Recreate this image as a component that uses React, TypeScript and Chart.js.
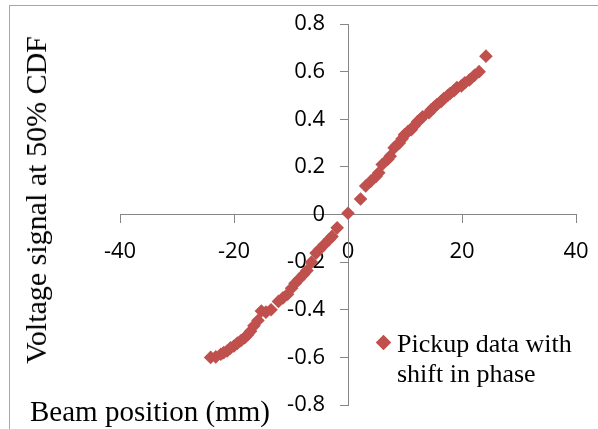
import React, { useEffect, useRef } from "react";
import { Chart, registerables } from "chart.js";

Chart.register(...registerables);

const seriesName = "Pickup data with shift in phase";
const xTitle = "Beam position (mm)";
const yTitle = "Voltage signal at 50% CDF";

const beamPos: number[] = [
  24.2, 23.0, 22.2, 21.3, 20.5, 19.9, 19.1, 18.6, 17.9, 17.5, 16.8, 16.3, 15.6, 15.1, 14.6, 14.2,
  13.1, 12.7, 12.2, 11.6, 11.1, 10.5, 9.9, 9.5, 9.0, 8.5, 8.1, 7.4, 7.0, 6.0, 5.4, 4.9, 4.0, 3.1,
  2.2, 0.0,
  -1.9, -2.8, -3.3, -4.2, -5.0, -5.6, -6.4, -7.2, -7.8, -8.6, -9.3, -9.9, -10.6, -11.4, -12.2,
  -13.5, -14.4, -15.2, -15.8, -16.5, -17.1, -17.6, -18.1, -18.8, -19.4, -20.0, -20.6, -21.2,
  -21.8, -22.3, -23.2, -24.1,
];
const voltage: number[] = [
  0.665, 0.6, 0.585, 0.565, 0.553, 0.54, 0.533, 0.52, 0.508, 0.5, 0.487, 0.474, 0.462, 0.45, 0.44,
  0.427, 0.41, 0.4, 0.39, 0.372, 0.356, 0.348, 0.335, 0.318, 0.3, 0.29, 0.28, 0.245, 0.232, 0.21,
  0.175, 0.16, 0.14, 0.12, 0.065, 0.005,
  -0.056, -0.092, -0.105, -0.127, -0.147, -0.162, -0.2, -0.235, -0.252, -0.272, -0.29, -0.31,
  -0.335, -0.35, -0.365, -0.4, -0.41, -0.405, -0.445, -0.467, -0.49, -0.505, -0.517, -0.53, -0.54,
  -0.552, -0.56, -0.573, -0.58, -0.587, -0.598, -0.6,
];

const xMin = -40, xMax = 40, xStep = 20;
const yMin = -0.8, yMax = 0.8, yStep = 0.2;

const RED = "#C0504D";
const AXIS = "#868686";
const CANVAS_W = 605;
const CANVAS_H = 429;

export default function App() {
  const ref = useRef<HTMLCanvasElement | null>(null);

  useEffect(() => {
    if (!ref.current) return;
    const points = beamPos.map((x, i) => ({ x, y: voltage[i] }));
    const tickFont = { family: "'Open Sans', sans-serif", size: 22 };
    const chart = new Chart(ref.current, {
      type: "scatter",
      data: {
        datasets: [
          {
            label: seriesName,
            data: points,
            pointStyle: "rectRot",
            pointRadius: 6.8,
            backgroundColor: RED,
            borderColor: RED,
            borderWidth: 0,
          },
        ],
      },
      options: {
        responsive: false,
        animation: false,
        events: [],
        layout: { padding: { left: 120, right: 29, top: 24, bottom: 24 } },
        plugins: { legend: { display: false }, tooltip: { enabled: false } },
        scales: {
          x: {
            type: "linear",
            min: xMin,
            max: xMax,
            position: { y: 0 } as any,
            ticks: {
              stepSize: xStep,
              font: tickFont,
              color: "#000",
              padding: 16,
              maxRotation: 0,
              autoSkip: false,
              callback: (v: any) => String(Math.round(Number(v))),
            },
            grid: { drawOnChartArea: false, drawTicks: true, tickLength: 8, color: AXIS, tickColor: AXIS },
            border: { color: AXIS, width: 1 },
          },
          y: {
            type: "linear",
            min: yMin,
            max: yMax,
            position: { x: 0 } as any,
            ticks: {
              stepSize: yStep,
              font: tickFont,
              color: "#000",
              padding: 0,
              autoSkip: false,
              // centred axes ignore tick padding, so keep the gap with trailing spaces
              callback: (v: any) => {
                const n = Number(v);
                const s = Math.abs(n) < 1e-9 ? "0" : n.toFixed(1);
                return s + "    ";
              },
            },
            grid: { drawOnChartArea: false, drawTicks: true, tickLength: 8, color: AXIS, tickColor: AXIS },
            border: { color: AXIS, width: 1 },
          },
        },
      },
    });
    return () => chart.destroy();
  }, []);

  const serif = "'Liberation Serif', 'Times New Roman', serif";

  return (
    <div style={{ position: "absolute", left: 0, top: 0, width: 598, height: 429, overflow: "hidden", background: "#fff" }}>
      <div
        style={{
          position: "absolute",
          left: 9,
          top: 5,
          width: 620,
          height: 440,
          borderTop: "1px solid #a6a6a6",
          borderLeft: "1px solid #a6a6a6",
        }}
      />
      <canvas
        ref={ref}
        width={CANVAS_W}
        height={CANVAS_H}
        style={{ position: "absolute", left: 0, top: 0, width: CANVAS_W, height: CANVAS_H }}
      />
      <div
        style={{
          position: "absolute",
          left: 36,
          top: 200,
          transform: "translate(-50%, -50%) rotate(-90deg)",
          whiteSpace: "nowrap",
          fontFamily: serif,
          fontSize: 30,
          lineHeight: 1,
          color: "#000",
        }}
      >
        {yTitle}
      </div>
      <div
        style={{
          position: "absolute",
          left: 30,
          top: 396,
          whiteSpace: "nowrap",
          fontFamily: serif,
          fontSize: 29,
          lineHeight: "30px",
          color: "#000",
        }}
      >
        {xTitle}
      </div>
      <div style={{ position: "absolute", left: 378, top: 337, width: 11, height: 11, background: RED, transform: "rotate(45deg)" }} />
      <div
        style={{
          position: "absolute",
          left: 397,
          top: 329,
          width: 200,
          fontFamily: serif,
          fontSize: 26,
          lineHeight: "30px",
          color: "#000",
        }}
      >
        Pickup data with
        <br />
        shift in phase
      </div>
    </div>
  );
}
